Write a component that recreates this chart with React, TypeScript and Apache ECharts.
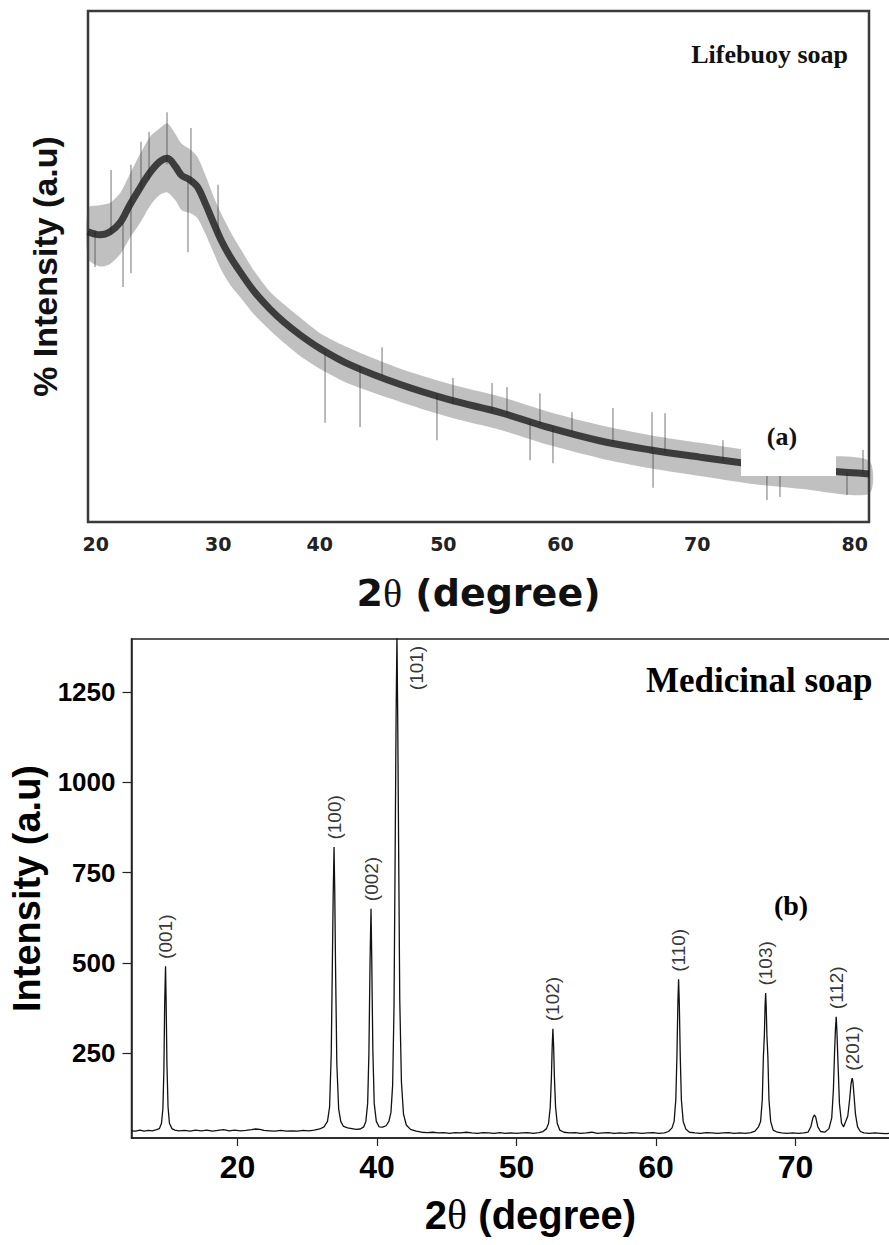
import React, { useEffect, useRef } from "react";
import * as echarts from "echarts";

// ---------- (a) Lifebuoy soap : broad noisy hump (arbitrary units) ----------
const lifebuoyX = [20.0, 20.9, 21.7, 22.5, 23.2, 24.0, 24.8, 25.5, 26.1, 26.7, 27.2, 27.8, 28.4, 29.0, 29.6, 30.2, 30.9, 31.7, 32.8, 34.0, 35.1, 36.3, 37.8, 40.1, 44.0, 47.8, 51.7, 55.5, 59.3, 63.2, 67.0, 70.9, 74.7, 80.0];
const lifebuoyCenter = [56.8, 56.2, 56.8, 58.7, 62.0, 65.4, 68.5, 70.5, 71.2, 69.6, 67.8, 67.0, 65.6, 62.4, 58.8, 55.3, 52.0, 48.9, 45.0, 41.6, 39.0, 36.6, 34.0, 30.8, 26.9, 23.9, 21.4, 18.4, 15.9, 14.1, 12.7, 11.4, 10.4, 9.4];
const lifebuoyUpper = [61.5, 62.0, 62.5, 64.5, 68.0, 72.0, 75.5, 77.0, 78.0, 76.0, 74.0, 73.0, 71.5, 68.0, 64.0, 60.5, 57.0, 53.5, 49.0, 45.0, 42.5, 40.0, 37.0, 34.0, 30.0, 27.0, 24.5, 21.5, 19.0, 17.0, 15.5, 14.0, 13.0, 12.0];
const lifebuoyLower = [51.5, 50.0, 50.5, 52.5, 55.5, 58.5, 62.0, 64.0, 64.5, 63.0, 61.0, 60.5, 59.5, 56.5, 53.0, 49.5, 46.5, 44.0, 40.5, 37.5, 35.0, 32.5, 30.0, 27.0, 23.5, 20.5, 18.0, 15.0, 12.5, 10.5, 9.0, 7.5, 6.5, 5.5];
// individual noise spikes: [2θ, low, high]
const lifebuoySpikes: [number, number, number][] = [
  [20.54, 49.9, 57.0], [21.77, 56.5, 68.9], [22.69, 46.0, 58.5], [23.3, 48.7, 69.9], [24.07, 65.0, 74.4],
  [24.69, 67.0, 76.3], [26.07, 70.0, 80.2], [27.68, 52.8, 67.0], [27.91, 66.0, 77.1], [29.99, 56.0, 66.0],
  [38.21, 19.4, 33.5], [40.9, 18.6, 30.5], [42.59, 28.5, 34.2], [46.81, 16.0, 25.0], [48.04, 23.0, 28.2],
  [51.04, 21.5, 27.2], [52.19, 21.0, 26.4], [53.96, 12.1, 20.0], [54.72, 19.0, 25.2], [55.72, 11.5, 18.5],
  [57.18, 17.5, 21.5], [60.33, 15.5, 22.3], [63.33, 14.0, 21.5], [63.41, 6.7, 14.0], [64.33, 13.5, 21.3],
  [68.78, 12.0, 16.0], [72.16, 4.3, 11.0], [73.16, 4.9, 11.0], [78.31, 5.3, 9.7], [79.54, 9.5, 14.1],
];
const topTickValues = [20.6, 30, 37.8, 47.3, 56.3, 66.8, 78.9];
const topTickLabels = ["20", "30", "40", "50", "60", "70", "80"];

// ---------- (b) Medicinal soap : XRD trace ----------
const medicinalTrace: [number, number][] = [
  [22.4, 34], [22.7, 33], [23.0, 36], [23.3, 33], [23.6, 35], [23.9, 34], [24.2, 37], [24.4, 40],
  [24.55, 55], [24.65, 95], [24.72, 200], [24.78, 390], [24.84, 490], [24.88, 400], [24.94, 220], [25.02, 100], [25.12, 55], [25.3, 40], [25.5, 36],
  [25.8, 34], [26.2, 35], [26.6, 33], [27.0, 36], [27.4, 34], [27.8, 36], [28.2, 33], [28.6, 35], [29.0, 37], [29.4, 34], [29.8, 36], [30.2, 34], [30.6, 35], [31.0, 37], [31.3, 39], [31.6, 38], [31.9, 35], [32.3, 34], [32.7, 33], [33.1, 35], [33.5, 33], [33.9, 34], [34.3, 33], [34.7, 35], [35.1, 34], [35.5, 36], [35.9, 39], [36.2, 45],
  [36.45, 60], [36.6, 100], [36.72, 250], [36.8, 500], [36.86, 690], [36.92, 821], [36.97, 700], [37.03, 480], [37.12, 220], [37.25, 95], [37.4, 60], [37.6, 46], [37.9, 42],
  [38.2, 40], [38.5, 38], [38.8, 39], [39.05, 45],
  [39.2, 60], [39.33, 110], [39.42, 250], [39.5, 500], [39.57, 650], [39.62, 520], [39.7, 260], [39.8, 110], [39.95, 60], [40.15, 45], [40.4, 44], [40.65, 48], [40.85, 60],
  [41.0, 85], [41.12, 160], [41.22, 380], [41.3, 800], [41.37, 1190], [41.43, 1410], [41.48, 1200], [41.55, 820], [41.63, 400], [41.75, 170], [41.9, 80], [42.1, 50], [42.4, 38], [42.8, 33],
  [43.2, 30], [43.6, 29], [44.0, 30], [44.4, 28], [44.8, 29], [45.2, 27], [45.6, 29], [46.0, 28], [46.4, 30], [46.8, 28], [47.2, 27], [47.6, 29], [48.0, 28], [48.4, 27], [48.8, 29], [49.2, 27], [49.6, 28], [50.0, 27], [50.4, 28], [50.8, 29], [51.2, 27], [51.6, 29], [51.9, 32], [52.15, 40],
  [52.3, 55], [52.42, 100], [52.5, 180], [52.56, 270], [52.61, 317], [52.66, 270], [52.72, 180], [52.8, 100], [52.92, 55], [53.1, 36], [53.4, 30],
  [53.8, 28], [54.2, 29], [54.6, 27], [55.0, 28], [55.4, 30], [55.8, 27], [56.2, 28], [56.6, 29], [57.0, 27], [57.4, 28], [57.8, 27], [58.2, 29], [58.6, 28], [59.0, 27], [59.4, 28], [59.8, 29], [60.2, 27], [60.6, 28], [60.9, 32], [61.15, 42],
  [61.3, 60], [61.42, 120], [61.5, 240], [61.57, 390], [61.62, 454], [61.67, 390], [61.74, 240], [61.82, 120], [61.95, 60], [62.15, 38], [62.4, 30],
  [62.8, 28], [63.2, 27], [63.6, 29], [64.0, 28], [64.4, 27], [64.8, 28], [65.2, 29], [65.6, 27], [66.0, 28], [66.4, 27], [66.8, 29], [67.1, 33], [67.35, 45],
  [67.5, 60], [67.62, 120], [67.7, 240], [67.77, 300], [67.82, 380], [67.86, 416], [67.9, 380], [67.95, 300], [68.02, 240], [68.1, 120], [68.22, 60], [68.4, 36], [68.7, 30],
  [69.0, 28], [69.4, 27], [69.8, 28], [70.2, 27], [70.6, 28], [70.9, 30], [71.1, 45], [71.25, 70], [71.35, 78], [71.45, 72], [71.6, 45], [71.8, 32], [72.1, 30], [72.4, 40],
  [72.6, 70], [72.72, 150], [72.8, 250], [72.87, 320], [72.92, 350], [72.97, 310], [73.05, 220], [73.15, 110], [73.3, 55], [73.45, 45], [73.6, 60],
  [73.75, 75], [73.88, 120], [73.97, 160], [74.03, 175], [74.07, 180], [74.12, 170], [74.2, 130], [74.3, 80], [74.45, 45], [74.65, 32], [74.9, 28],
  [75.3, 27], [75.7, 28], [76.1, 27], [76.5, 26], [76.9, 28], [77.3, 27], [77.6, 27],
];
const peakLabels = ["(001)", "(100)", "(002)", "(101)", "(102)", "(110)", "(103)", "(112)", "(201)"];
const peakPos = [24.84, 36.92, 39.57, 41.43, 52.61, 61.62, 67.86, 72.92, 74.07];
const peakHeight = [490, 821, 650, 1410, 317, 454, 416, 350, 180];
const bottomTickValues = [30, 40, 50, 60, 70];
const bottomTickLabels = ["20", "40", "50", "60", "70"];
const bottomYTicks = [250, 500, 750, 1000, 1250];

function labelFor(values: number[], labels: string[]) {
  return (v: number) => {
    let best = 0;
    for (let i = 1; i < values.length; i++) {
      if (Math.abs(values[i] - v) < Math.abs(values[best] - v)) best = i;
    }
    return Math.abs(values[best] - v) < 0.01 ? labels[best] : "";
  };
}

export default function App() {
  const ref = useRef<HTMLDivElement>(null);
  useEffect(() => {
    if (!ref.current) return;
    const chart = echarts.init(ref.current, undefined, { renderer: "svg" });
    const sans = "Liberation Sans";
    const serif = "Liberation Serif";
    const option: any = {
      animation: false,
      backgroundColor: "#ffffff",
      grid: [
        { left: 88, top: 11, width: 781, height: 511, show: true, borderColor: "#3a3a3a", borderWidth: 2.5, outerBoundsMode: "none", containLabel: false },
        { left: 131.5, top: 639, width: 770, height: 499, show: true, borderColor: "#222", borderWidth: 1.5, outerBoundsMode: "none", containLabel: false },
      ],
      xAxis: [
        {
          type: "value", gridIndex: 0, min: 20, max: 80,
          axisLine: { show: false }, axisTick: { show: false }, splitLine: { show: false },
          axisLabel: {
            customValues: topTickValues, formatter: labelFor(topTickValues, topTickLabels),
            margin: 12, fontFamily: "DejaVu Sans", fontWeight: "bold", fontSize: 19, color: "#222",
          },
          name: "2{t|θ} (degree)", nameLocation: "middle", nameGap: 51,
          nameTextStyle: {
            fontFamily: "DejaVu Sans", fontWeight: "bold", fontSize: 38, color: "#111",
            rich: { t: { fontFamily: serif, fontWeight: "normal", fontSize: 40, color: "#111" } },
          },
        },
        {
          type: "value", gridIndex: 1, min: 22.4, max: 77.6,
          axisLine: { show: true, lineStyle: { color: "#222", width: 1.5 } },
          axisTick: { show: true, customValues: bottomTickValues, length: 8, lineStyle: { color: "#222", width: 1.2 } },
          splitLine: { show: false },
          axisLabel: {
            customValues: bottomTickValues, formatter: labelFor(bottomTickValues, bottomTickLabels),
            margin: 13, fontFamily: sans, fontWeight: "bold", fontSize: 32, color: "#000",
          },
          name: "2{t|θ} (degree)", nameLocation: "middle", nameGap: 56,
          nameTextStyle: {
            fontFamily: sans, fontWeight: "bold", fontSize: 40, color: "#000", padding: [0, 0, 0, 28],
            rich: { t: { fontFamily: serif, fontWeight: "normal", fontSize: 42, color: "#000" } },
          },
        },
      ],
      yAxis: [
        {
          type: "value", gridIndex: 0, min: 0, max: 100,
          axisLine: { show: false }, axisTick: { show: false }, axisLabel: { show: false }, splitLine: { show: false },
          name: "% Intensity (a.u)", nameLocation: "middle", nameGap: 26,
          nameTextStyle: { fontFamily: sans, fontWeight: "bold", fontSize: 34, color: "#111" },
        },
        {
          type: "value", gridIndex: 1, min: 14, max: 1398,
          axisLine: { show: true, lineStyle: { color: "#222", width: 1.5 } },
          axisTick: { show: true, customValues: bottomYTicks, length: 9, lineStyle: { color: "#222", width: 1.2 } },
          splitLine: { show: false },
          axisLabel: {
            customValues: bottomYTicks, formatter: (v: number) => String(v),
            margin: 16, fontFamily: sans, fontWeight: "bold", fontSize: 26, color: "#000",
          },
          name: "Intensity (a.u)", nameLocation: "middle", nameGap: 86,
          nameTextStyle: { fontFamily: sans, fontWeight: "bold", fontSize: 38, color: "#000" },
        },
      ],
      series: [
        {
          name: "noise band", type: "custom", xAxisIndex: 0, yAxisIndex: 0, silent: true,
          data: lifebuoyX.map((x, i) => [x, lifebuoyLower[i], lifebuoyUpper[i]]),
          renderItem: (params: any, api: any) => {
            if (params.dataIndex !== 0) return null;
            const pts: number[][] = [];
            for (let i = 0; i < lifebuoyX.length; i++) pts.push(api.coord([lifebuoyX[i], lifebuoyUpper[i]]));
            for (let i = lifebuoyX.length - 1; i >= 0; i--) pts.push(api.coord([lifebuoyX[i], lifebuoyLower[i]]));
            return { type: "polygon", shape: { points: pts, smooth: 0.25 }, style: { fill: "rgba(70,70,70,0.34)" } };
          },
        },
        {
          name: "noise spikes", type: "custom", xAxisIndex: 0, yAxisIndex: 0, silent: true,
          data: lifebuoySpikes,
          renderItem: (params: any, api: any) => {
            const a = api.coord([api.value(0), api.value(1)]);
            const b = api.coord([api.value(0), api.value(2)]);
            return { type: "line", shape: { x1: a[0], y1: a[1], x2: b[0], y2: b[1] }, style: { stroke: "rgba(60,60,60,0.55)", lineWidth: 1.3 } };
          },
        },
        {
          name: "Lifebuoy soap", type: "line", xAxisIndex: 0, yAxisIndex: 0,
          data: lifebuoyX.map((x, i) => [x, lifebuoyCenter[i]]),
          symbol: "none", smooth: 0.35, lineStyle: { color: "rgba(30,30,30,0.82)", width: 7 },
        },
        {
          name: "Medicinal soap", type: "line", xAxisIndex: 1, yAxisIndex: 1,
          data: medicinalTrace, symbol: "none", clip: true,
          lineStyle: { color: "#111", width: 1.3 },
        },
        {
          name: "hkl", type: "scatter", xAxisIndex: 1, yAxisIndex: 1, clip: false, silent: true,
          symbolSize: 1, itemStyle: { color: "transparent" },
          data: peakPos.map((x, i) => ({
            value: [x, peakHeight[i]], name: peakLabels[i],
            label: i === 3 ? { offset: [-63, 19.5] } : undefined,
          })),
          label: {
            show: true, position: "top", distance: 7, rotate: 90, align: "left", verticalAlign: "middle",
            formatter: "{b}", fontFamily: sans, fontSize: 19, color: "#000",
          },
        },
      ],
      graphic: [
        { type: "text", x: 848, y: 54, z: 100, style: { text: "Lifebuoy soap", fontFamily: serif, fontWeight: "bold", fontSize: 26, fill: "#111", align: "right", verticalAlign: "middle" } },
        { type: "rect", z: 100, shape: { x: 741, y: 412, width: 95, height: 64 }, style: { fill: "#ffffff" } },
        { type: "text", x: 782, y: 436, z: 101, style: { text: "(a)", fontFamily: serif, fontWeight: "bold", fontSize: 26, fill: "#111", align: "center", verticalAlign: "middle" } },
        { type: "text", x: 646, y: 680, z: 100, style: { text: "Medicinal soap", fontFamily: serif, fontWeight: "bold", fontSize: 35, fill: "#000", align: "left", verticalAlign: "middle" } },
        { type: "text", x: 791, y: 905, z: 100, style: { text: "(b)", fontFamily: serif, fontWeight: "bold", fontSize: 28, fill: "#000", align: "center", verticalAlign: "middle" } },
      ],
    };
    chart.setOption(option);
    return () => chart.dispose();
  }, []);
  return (
    <div
      ref={ref}
      style={{ position: "fixed", left: 0, top: 0, width: 889, height: 1245, background: "#fff" }}
    />
  );
}
